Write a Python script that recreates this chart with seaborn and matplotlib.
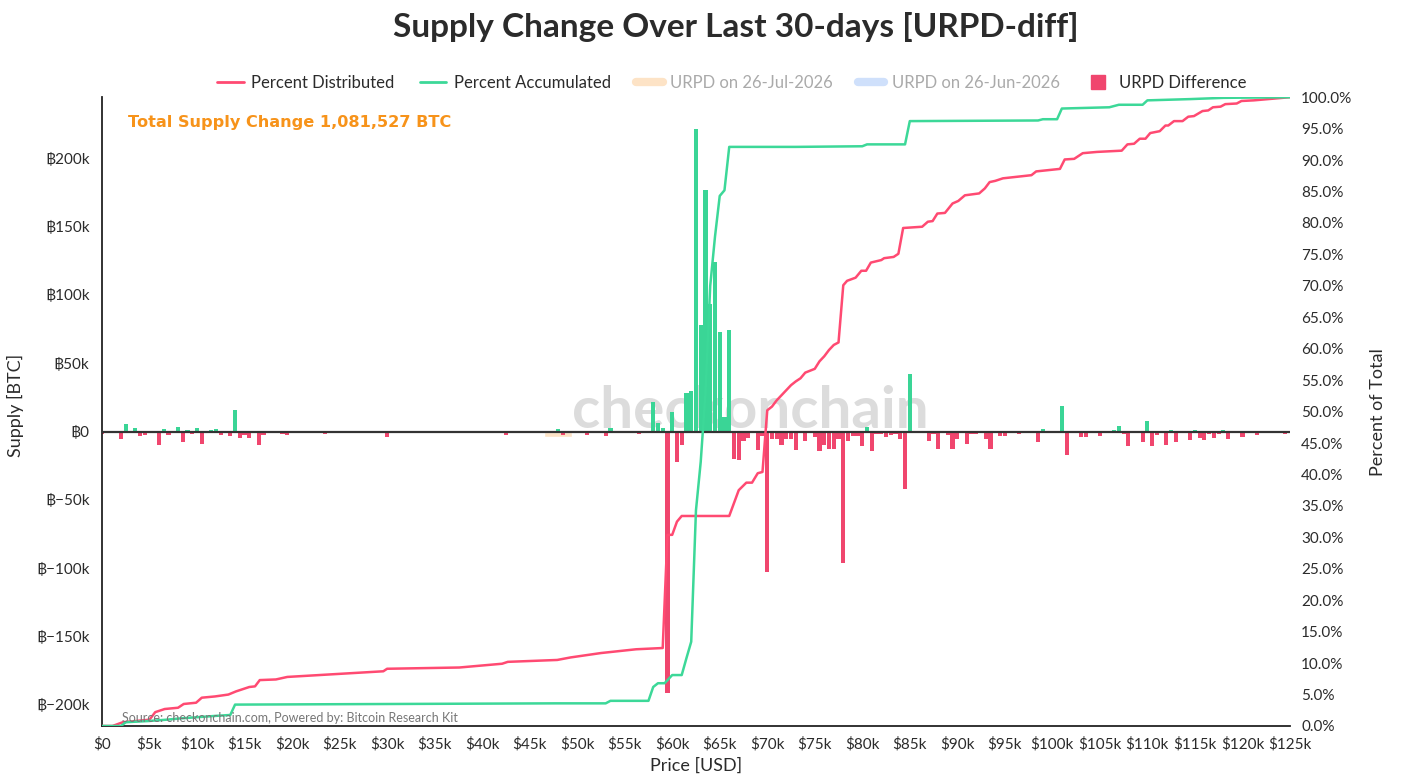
import numpy as np
import pandas as pd
import matplotlib
matplotlib.use('Agg')
import matplotlib.pyplot as plt
import seaborn as sns
from matplotlib.lines import Line2D
from matplotlib.ticker import FuncFormatter, MultipleLocator

# URPD difference per $500 price bucket (price in $k, supply change in k BTC)
price_k = [0, 0.5, 2.0, 2.5, 3.5, 4.0, 4.5, 5.0, 6.0, 6.5, 7.0, 7.5, 8.0, 8.5, 9.0, 9.5,
           10.0, 10.5, 11.0, 11.5, 12.0, 12.5, 13.0, 13.5, 14.0, 14.5, 15.0, 15.5, 16.5, 17.0,
           18.5, 19.0, 19.5, 20.5, 21.0, 22.5, 23.0, 23.5, 25.5, 27.5, 29.0, 30.0, 30.5, 34.0,
           38.0, 38.5, 42.5, 43.0, 43.5, 48.0, 48.5, 49.5, 50.0, 51.0, 53.0, 53.5, 54.5, 55.5,
           56.5, 57.5, 58.0, 58.5, 59.0, 59.5, 60.0, 60.5, 61.0, 61.5, 62.0, 62.5, 63.0, 63.5,
           64.0, 64.5, 65.0, 65.5, 66.0, 66.5, 67.0, 67.5, 68.0, 69.0, 69.5, 70.0, 70.5, 71.0,
           71.5, 72.0, 72.5, 73.0, 73.5, 74.0, 74.5, 75.0, 75.5, 76.0, 76.5, 77.0, 77.5, 78.0,
           78.5, 79.0, 79.5, 80.0, 80.5, 81.0, 81.5, 82.0, 82.5, 83.0, 83.5, 84.0, 84.5, 85.0,
           85.5, 86.5, 87.0, 87.5, 88.0, 89.0, 89.5, 90.0, 91.0, 91.5, 92.0, 93.0, 93.5, 94.5,
           95.0, 95.5, 96.0, 96.5, 97.5, 98.5, 99.0, 100.0, 100.5, 101.0, 101.5, 102.0, 102.5,
           103.0, 103.5, 104.0, 105.0, 106.5, 107.0, 107.5, 108.0, 108.5, 109.0, 109.5, 110.0,
           110.5, 111.0, 112.0, 112.5, 113.0, 114.5, 115.0, 115.5, 116.0, 116.5, 117.0, 117.5,
           118.0, 118.5, 119.0, 120.0, 121.0, 121.5, 122.0, 122.5, 123.0, 124.0, 124.5]
diff_k = [-1.7, -0.5, -5.8, 5.6, 2.7, -3.0, -2.2, -1.2, -9.7, 2.0, -2.7, -1.0, 3.2, -7.8, 1.2, -2.0,
          2.9, -9.0, 0.7, 1.0, 1.7, -2.7, 0.5, -3.2, 15.8, -4.9, -2.2, -4.9, -9.7, -2.4,
          0.5, -1.7, -2.4, -1.2, -0.7, -0.7, 0.5, -1.5, -0.5, -0.5, -0.5, -4.2, -1.0, -0.5,
          -1.0, -0.5, -2.7, -1.2, -0.8, 2.0, -2.7, -0.7, -1.0, -2.4, -2.9, 2.7, -0.7, -0.7,
          -1.5, -0.5, 21.4, 6.1, 2.4, -191.0, 14.0, -22.0, -9.7, 28.0, 30.0, 221.0, 78.0, 177.0,
          93.0, 124.0, 73.0, 10.5, 74.0, -20.0, -21.0, -7.0, -4.5, -13.6, -3.0, -103.0, -5.8, -5.8,
          -10.2, -5.8, -5.8, -13.4, 0.7, -7.0, -0.5, -4.1, -14.4, -10.0, -12.7, -12.4, -5.4, -96.0,
          -6.6, -3.6, -2.9, -10.7, 3.2, -13.9, -1.7, -1.7, -4.1, -2.2, -1.7, -5.4, -42.0, 42.0,
          -0.5, -0.5, -7.0, -1.7, -13.1, -2.2, -12.7, -5.4, -9.0, -1.7, -1.7, -5.4, -12.7, -2.9,
          -2.9, 0.7, -0.5, -1.5, -1.2, -7.3, 1.7, -1.2, -1.2, 18.5, -17.5, -0.5, -0.5,
          -3.9, -3.9, 0.7, -3.2, 1.2, 4.1, -1.7, -10.5, -0.7, -0.5, -8.0, 7.5,
          -10.5, -2.2, -10.0, 1.0, -8.0, -6.3, 1.2, -4.6, -6.1, -1.5, -4.4, -2.0,
          1.5, -5.6, -1.2, -3.9, -1.0, -2.4, 0.5, -1.0, -0.7, 0.5, -1.5]

# faint remnant of the 26-Jul URPD series
ghost_price_k = [48.0]
ghost_val_k = [-4.0]

# cumulative percent distributed (red) and accumulated (green)
dist_price_k = [0, 1.1, 2.2, 5.0, 5.6, 6.6, 8.0, 8.6, 9.9, 10.5, 11.9, 13.3, 14.1, 15.5, 16.1, 16.6,
                18.3, 19.5, 29.6, 30.0, 37.6, 42.1, 42.7, 47.9, 49.3, 52.5, 56.2, 59.0, 59.5, 60.0,
                60.5, 61.0, 66.0, 67.0, 67.8, 68.4, 69.0, 69.5, 70.0, 70.5, 71.0, 71.5, 72.5, 73.0,
                73.5, 74.0, 75.0, 75.5, 76.0, 76.5, 77.0, 77.5, 78.0, 78.4, 79.3, 79.9, 80.4, 80.9,
                82.0, 82.3, 83.3, 83.8, 84.3, 86.3, 86.9, 87.4, 87.9, 88.7, 89.5, 90.1, 90.8, 92.3,
                92.9, 93.4, 94.0, 94.8, 97.8, 98.3, 100.8, 101.3, 102.3, 103.2, 104.7, 107.3, 107.9,
                108.6, 109.2, 109.8, 110.3, 111.3, 111.9, 112.2, 112.8, 113.7, 114.3, 114.9, 115.8,
                116.4, 116.9, 117.7, 118.2, 119.4, 119.9, 121.2, 125.0]
dist_pct = [0, 0, 0.6, 1.0, 2.2, 2.7, 2.9, 3.5, 3.7, 4.5, 4.7, 5.0, 5.5, 6.2, 6.3, 7.3,
            7.4, 7.8, 8.7, 9.1, 9.3, 9.9, 10.2, 10.5, 10.9, 11.6, 12.2, 12.4, 30.4, 30.4,
            32.5, 33.4, 33.4, 37.5, 38.7, 38.7, 40.2, 40.4, 50.2, 50.8, 51.8, 52.6, 54.2, 54.8,
            55.3, 56.2, 56.8, 58.0, 58.8, 59.8, 60.6, 61.0, 70.1, 70.8, 71.3, 72.4, 72.4, 73.7,
            74.1, 74.4, 74.6, 75.1, 79.2, 79.4, 80.2, 80.3, 81.5, 81.6, 83.1, 83.5, 84.4, 84.7,
            85.5, 86.5, 86.7, 87.1, 87.6, 88.2, 88.6, 90.1, 90.2, 91.1, 91.3, 91.5, 92.5,
            92.6, 93.4, 93.4, 94.3, 94.6, 95.5, 95.5, 96.2, 96.2, 96.9, 97.0, 97.8,
            97.9, 98.4, 98.5, 98.9, 99.0, 99.4, 99.5, 100.0]
acc_price_k = [0, 2.0, 2.5, 5.0, 6.8, 8.2, 11.9, 13.5, 14.0, 47.7, 53.0, 53.5, 57.5, 58.0, 58.5,
               59.2, 60.0, 61.0, 61.5, 62.0, 62.5, 63.0, 63.5, 64.0, 64.5, 65.0, 65.5, 66.0, 73.0,
               80.0, 80.5, 84.5, 85.0, 98.5, 99.0, 100.5, 101.0, 106.0, 107.0, 109.5, 110.0, 114.5,
               118.0, 125.0]
acc_pct = [0, 0, 0.6, 0.8, 1.0, 1.2, 1.6, 1.75, 3.4, 3.6, 3.6, 4.0, 4.0, 6.2, 6.8,
           6.8, 8.1, 8.1, 10.8, 13.4, 34.3, 42.0, 53.0, 70.0, 77.8, 84.3, 85.2, 92.1, 92.1,
           92.2, 92.5, 92.5, 96.2, 96.3, 96.5, 96.5, 98.2, 98.4, 98.8, 98.8, 99.5, 99.7,
           99.9, 100.0]

RED = '#f0466e'
GREEN = '#3ad596'
LINE_RED = '#ff4a72'
LINE_GREEN = '#3cd898'
TXT = '#2b2b2b'

sns.set_theme(style='white')
plt.rcParams['font.family'] = ['Lato', 'DejaVu Sans']

fig = plt.figure(figsize=(14.05, 7.84), dpi=100)
ax = fig.add_axes([0.0726, 0.074, 0.8455, 0.802])

# watermark behind everything
ax.text(0.546, 0.50, 'checkonchain', transform=ax.transAxes, ha='center', va='center',
        fontsize=42, fontweight='bold', color='#dcdcdc', zorder=0)

ax.bar(np.array(ghost_price_k) * 1000, np.array(ghost_val_k) * 1000, width=2900,
       color='#fde3c6', zorder=1)

df = pd.DataFrame({'price': np.array(price_k) * 1000, 'diff': np.array(diff_k) * 1000})
df['side'] = np.where(df['diff'] >= 0, 'acc', 'dist')
sns.barplot(data=df, x='price', y='diff', hue='side', palette={'acc': GREEN, 'dist': RED},
            native_scale=True, dodge=False, width=0.88, errorbar=None, legend=False,
            saturation=1, linewidth=0, ax=ax, zorder=2)

ax.axhline(0, color='#333333', lw=1.6, zorder=3)
ax.set_xlim(0, 125000)
ax.set_ylim(-215400, 244600)
ax.xaxis.set_major_locator(MultipleLocator(5000))
ax.xaxis.set_major_formatter(FuncFormatter(lambda v, p: '$0' if v == 0 else f'${v/1000:.0f}k'))
ax.yaxis.set_major_locator(MultipleLocator(50000))
ax.yaxis.set_major_formatter(FuncFormatter(
    lambda v, p: '฿0' if v == 0 else ('฿−' if v < 0 else '฿') + f'{abs(v)/1000:.0f}k'))
ax.tick_params(axis='both', length=0, labelsize=11, labelcolor=TXT)
ax.tick_params(axis='x', pad=8)
ax.tick_params(axis='y', pad=9)
ax.set_xlabel('')
ax.set_ylabel('')
for s in ['top', 'right']:
    ax.spines[s].set_visible(False)
for s in ['left', 'bottom']:
    ax.spines[s].set_color('#222222')
    ax.spines[s].set_linewidth(1.3)
ax.set_facecolor('none')

ax2 = ax.twinx()
sns.lineplot(x=np.array(dist_price_k) * 1000, y=dist_pct, ax=ax2, color=LINE_RED, lw=1.8)
sns.lineplot(x=np.array(acc_price_k) * 1000, y=acc_pct, ax=ax2, color=LINE_GREEN, lw=1.8)
ax2.set_ylim(0, 100)
ax2.set_xlim(0, 125000)
ax2.yaxis.set_major_locator(MultipleLocator(5))
ax2.yaxis.set_major_formatter(FuncFormatter(lambda v, p: f'{v:.1f}%'))
ax2.tick_params(axis='y', length=0, labelsize=11, labelcolor=TXT, pad=8)
for s in ax2.spines.values():
    s.set_visible(False)
ax2.set_ylabel('')

# annotations
fig.text(128 / 1405, 1 - 122 / 784, 'Total Supply Change 1,081,527 BTC', ha='left', va='center',
         fontsize=11.6, fontweight='bold', color='#f7931a', family='DejaVu Sans')
fig.text(122 / 1405, 1 - 718 / 784, 'Source: checkonchain.com, Powered by: Bitcoin Research Kit',
         ha='left', va='center', fontsize=9, color='#777777')
fig.text(736 / 1405, 1 - 27 / 784, 'Supply Change Over Last 30-days [URPD-diff]', ha='center',
         va='center', fontsize=24, fontweight='bold', color=TXT)
fig.text(15 / 1405, 1 - 405 / 784, 'Supply [BTC]', rotation=90, ha='center', va='center',
         fontsize=13, color=TXT)
fig.text(1378 / 1405, 1 - 412 / 784, 'Percent of Total', rotation=90, ha='center', va='center',
         fontsize=13, color=TXT)
fig.text(696 / 1405, 1 - 766 / 784, 'Price [USD]', ha='center', va='center', fontsize=13, color=TXT)

handles = [Line2D([], [], color=LINE_RED, lw=2),
           Line2D([], [], color=LINE_GREEN, lw=2),
           Line2D([], [], color='#fde3c6', lw=6),
           Line2D([], [], color='#cfe0fb', lw=6),
           Line2D([], [], color=RED, marker='s', markersize=10, linestyle='none')]
labels = ['Percent Distributed', 'Percent Accumulated', 'URPD on 26-Jul-2026',
          'URPD on 26-Jun-2026', 'URPD Difference']
leg = fig.legend(handles, labels, loc='center', bbox_to_anchor=(732 / 1405, 1 - 83 / 784),
                 ncol=5, frameon=False, fontsize=12, handlelength=1.6, columnspacing=1.5,
                 handletextpad=0.45)
for t, c in zip(leg.get_texts(), [TXT, TXT, '#aaaaaa', '#aaaaaa', TXT]):
    t.set_color(c)

fig.savefig('out.png', dpi=100)
